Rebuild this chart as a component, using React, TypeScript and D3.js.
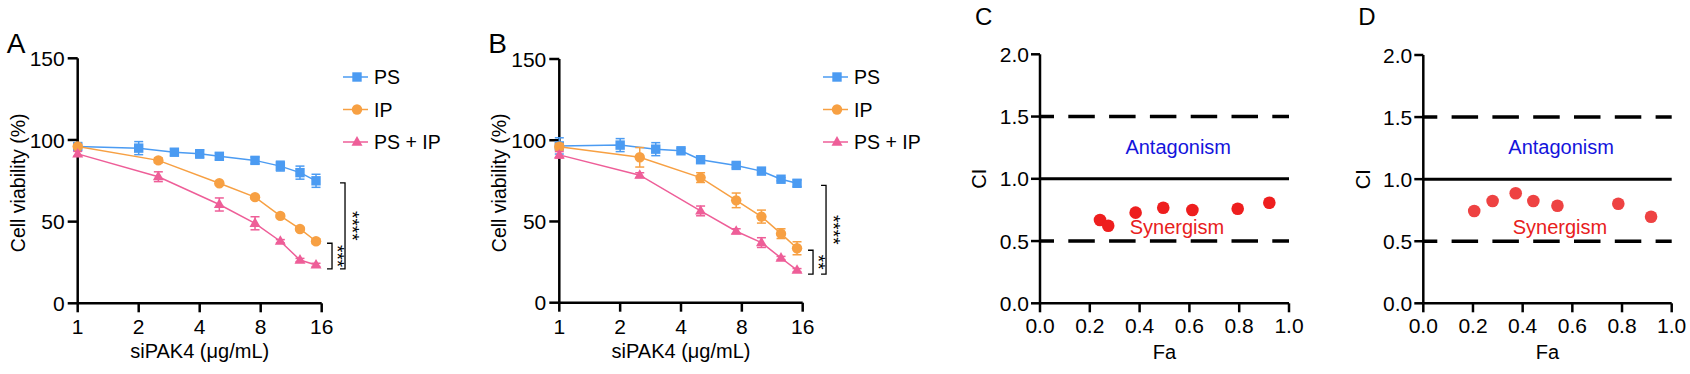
import React from 'react';
import * as d3 from 'd3';

// ---------- data ----------
const seriesNames = ['PS', 'IP', 'PS + IP'];
const seriesColors = ['#4B9BF2', '#F7A043', '#EE5E98'];

const dosesPS = [1, 2, 3, 4, 5, 7.5, 10, 12.5, 15];
const dosesCombo = [1, 2.5, 5, 7.5, 10, 12.5, 15];

const aPS = [96, 95, 92.5, 91.5, 90, 87.5, 84, 80, 75];
const aPSErr = [2, 4, 2, 2.5, 2, 2, 3, 4, 4];
const aIP = [96, 87.5, 73.5, 65, 53.5, 45.5, 38];
const aIPErr = [1, 1.5, 1, 1, 1, 1, 1.5];
const aCombo = [91.5, 77.5, 60.5, 49, 38, 26.5, 23.5];
const aComboErr = [1.5, 3, 4, 4, 1, 1, 1];

const bPS = [96.5, 97, 94.5, 93.5, 88, 84.5, 81, 76, 73.5];
const bPSErr = [5, 4, 4, 1.5, 2, 1.5, 1.5, 1, 2];
const bIP = [96, 89.5, 77, 63, 53, 42.5, 33.5];
const bIPErr = [2, 6, 3, 4.5, 4, 3, 4];
const bCombo = [91, 78.5, 56.5, 44, 37, 27.5, 20];
const bComboErr = [2, 1.5, 3, 1.5, 3, 1, 1];

const sigA = ['****', '***'];
const sigB = ['****', '**'];

const doseTicks = [1, 2, 4, 8, 16];
const viabTicks = [0, 50, 100, 150];

const faC = [0.241, 0.274, 0.384, 0.495, 0.612, 0.794, 0.921];
const ciC = [0.669, 0.623, 0.728, 0.768, 0.749, 0.76, 0.808];
const faD = [0.205, 0.279, 0.372, 0.443, 0.54, 0.785, 0.917];
const ciD = [0.743, 0.824, 0.886, 0.824, 0.786, 0.802, 0.697];

const faTicks = [0, 0.2, 0.4, 0.6, 0.8, 1.0];
const ciTicks = [0, 0.5, 1.0, 1.5, 2.0];
const ciRefDashed = [0.5, 1.5];
const ciRefSolid = 1.0;

const FONT = "'Liberation Sans', Arial, Helvetica, sans-serif";

function Marker({ kind, x, y, color }: { kind: number; x: number; y: number; color: string }) {
  if (kind === 0) return <rect x={x - 4.7} y={y - 4.7} width={9.4} height={9.4} fill={color} />;
  if (kind === 1) return <circle cx={x} cy={y} r={5.2} fill={color} />;
  const s = 11;
  const h = s * 0.87;
  return (
    <path
      d={`M${x},${y - h * 0.62} L${x + s / 2},${y + h * 0.38} L${x - s / 2},${y + h * 0.38} Z`}
      fill={color}
    />
  );
}

type Series = { doses: number[]; vals: number[]; errs: number[] };

function ViabPanel(props: {
  letter: string;
  ax: number;
  axEnd: number;
  yBottom: number;
  yTop: number;
  series: Series[];
  legendX: number;
  sig: string[];
}) {
  const { letter, ax, axEnd, yBottom, yTop, series, legendX, sig } = props;
  const x = d3.scaleLog().base(2).domain([1, 16]).range([ax, axEnd]);
  const y = d3.scaleLinear().domain([0, 150]).range([yBottom, yTop]);
  const line = d3
    .line<[number, number]>()
    .x((d) => x(d[0]))
    .y((d) => y(d[1]));

  const lastIdx = (s: Series) => s.vals.length - 1;
  const lastX = x(series[0].doses[lastIdx(series[0])]);
  const yPS = y(series[0].vals[lastIdx(series[0])]) + 2;
  const yIP = y(series[1].vals[lastIdx(series[1])]) + 2;
  const yCombo = y(series[2].vals[lastIdx(series[2])]) + 4;
  const bigX = lastX + 29;
  const smallX = lastX + 16;

  return (
    <g fontFamily={FONT}>
      <text x={ax - 71} y={53} fontSize={28}>{letter}</text>
      {/* axes */}
      <line x1={ax} x2={ax} y1={yTop} y2={yBottom} stroke="#000" strokeWidth={2.5} />
      <line x1={ax} x2={axEnd} y1={yBottom} y2={yBottom} stroke="#000" strokeWidth={2.5} />
      {viabTicks.map((t) => (
        <g key={t}>
          <line x1={ax - 10} x2={ax} y1={y(t)} y2={y(t)} stroke="#000" strokeWidth={2.5} />
          <text x={ax - 13} y={y(t)} dy="0.36em" textAnchor="end" fontSize={21}>{t}</text>
        </g>
      ))}
      {doseTicks.map((t) => (
        <g key={t}>
          <line x1={x(t)} x2={x(t)} y1={yBottom} y2={yBottom + 9} stroke="#000" strokeWidth={2.5} />
          <text x={x(t)} y={yBottom + 31} textAnchor="middle" fontSize={21}>{t}</text>
        </g>
      ))}
      <text x={(ax + axEnd) / 2} y={358} textAnchor="middle" fontSize={20}>siPAK4 (μg/mL)</text>
      <text
        transform={`translate(${ax - 60},${(yTop + yBottom) / 2 + 2}) rotate(-90)`}
        textAnchor="middle"
        dy="0.36em"
        fontSize={19.5}
      >
        Cell viability (%)
      </text>
      {/* series */}
      {series.map((s, i) => {
        const pts = s.doses.map((d, j) => [d, s.vals[j]] as [number, number]);
        return (
          <g key={i}>
            <path d={line(pts) || ''} fill="none" stroke={seriesColors[i]} strokeWidth={1.5} />
            {s.doses.map((d, j) => (
              <g key={j} stroke={seriesColors[i]} strokeWidth={1.5}>
                <line x1={x(d)} x2={x(d)} y1={y(s.vals[j] - s.errs[j])} y2={y(s.vals[j] + s.errs[j])} />
                <line x1={x(d) - 4.5} x2={x(d) + 4.5} y1={y(s.vals[j] + s.errs[j])} y2={y(s.vals[j] + s.errs[j])} />
                <line x1={x(d) - 4.5} x2={x(d) + 4.5} y1={y(s.vals[j] - s.errs[j])} y2={y(s.vals[j] - s.errs[j])} />
              </g>
            ))}
            {s.doses.map((d, j) => (
              <Marker key={'m' + j} kind={i} x={x(d)} y={y(s.vals[j])} color={seriesColors[i]} />
            ))}
          </g>
        );
      })}
      {/* significance brackets */}
      <path d={`M${bigX - 5},${yPS} H${bigX} V${yCombo} H${bigX - 5}`} fill="none" stroke="#000" strokeWidth={1.3} />
      <path d={`M${smallX - 5},${yIP} H${smallX} V${yCombo} H${smallX - 5}`} fill="none" stroke="#000" strokeWidth={1.3} />
      <text
        transform={`translate(${bigX + 0.5},${(yPS + yCombo) / 2}) rotate(90)`}
        textAnchor="middle"
        fontSize={19}
      >
        {sig[0]}
      </text>
      <text
        transform={`translate(${smallX - 1.5},${(yIP + yCombo) / 2}) rotate(90)`}
        textAnchor="middle"
        fontSize={19}
      >
        {sig[1]}
      </text>
      {/* legend */}
      {seriesNames.map((n, i) => {
        const ly = 77 + i * 32.5;
        return (
          <g key={n}>
            <line x1={legendX} x2={legendX + 25} y1={ly} y2={ly} stroke={seriesColors[i]} strokeWidth={1.5} />
            <Marker kind={i} x={legendX + 14} y={ly} color={seriesColors[i]} />
            <text x={legendX + 31} y={ly} dy="0.36em" fontSize={19.5}>{n}</text>
          </g>
        );
      })}
    </g>
  );
}

function CIPanel(props: { letter: string; ax: number; axEnd: number; yBottom: number; yTop: number; fa: number[]; ci: number[]; dot: string }) {
  const { letter, ax, axEnd, yBottom, yTop, fa, ci, dot } = props;
  const x = d3.scaleLinear().domain([0, 1]).range([ax, axEnd]);
  const y = d3.scaleLinear().domain([0, 2]).range([yBottom, yTop]);
  return (
    <g fontFamily={FONT}>
      <text x={ax - 65} y={25} fontSize={24}>{letter}</text>
      {ciRefDashed.map((v) => (
        <line
          key={v}
          x1={ax}
          x2={axEnd}
          y1={y(v)}
          y2={y(v)}
          stroke="#000"
          strokeWidth={3.5}
          strokeDasharray="26.5 14.3"
          strokeDashoffset={12.5}
        />
      ))}
      <line x1={ax} x2={axEnd} y1={y(ciRefSolid)} y2={y(ciRefSolid)} stroke="#000" strokeWidth={3} />
      <line x1={ax} x2={ax} y1={yTop} y2={yBottom} stroke="#000" strokeWidth={2.5} />
      <line x1={ax} x2={axEnd} y1={yBottom} y2={yBottom} stroke="#000" strokeWidth={2.5} />
      {ciTicks.map((t) => (
        <g key={t}>
          <line x1={ax - 9} x2={ax} y1={y(t)} y2={y(t)} stroke="#000" strokeWidth={2.5} />
          <text x={ax - 11} y={y(t)} dy="0.36em" textAnchor="end" fontSize={21}>{t.toFixed(1)}</text>
        </g>
      ))}
      {faTicks.map((t) => (
        <g key={t}>
          <line x1={x(t)} x2={x(t)} y1={yBottom} y2={yBottom + 9} stroke="#000" strokeWidth={2.5} />
          <text x={x(t)} y={yBottom + 30} textAnchor="middle" fontSize={21}>{t.toFixed(1)}</text>
        </g>
      ))}
      <text x={(ax + axEnd) / 2} y={359} textAnchor="middle" fontSize={20}>Fa</text>
      <text transform={`translate(${ax - 61},${y(1)}) rotate(-90)`} textAnchor="middle" dy="0.36em" fontSize={20}>CI</text>
      <text x={x(0.555)} y={y(1.258)} dy="0.36em" textAnchor="middle" fontSize={20} fill="#1414DC">Antagonism</text>
      {fa.map((f, i) => (
        <circle key={i} cx={x(f)} cy={y(ci[i])} r={6.3} fill={dot} />
      ))}
      <text x={x(0.55)} y={y(0.613)} dy="0.36em" textAnchor="middle" fontSize={20} fill="#E82020">Synergism</text>
    </g>
  );
}

export default function App() {
  const seriesA: Series[] = [
    { doses: dosesPS, vals: aPS, errs: aPSErr },
    { doses: dosesCombo, vals: aIP, errs: aIPErr },
    { doses: dosesCombo, vals: aCombo, errs: aComboErr },
  ];
  const seriesB: Series[] = [
    { doses: dosesPS, vals: bPS, errs: bPSErr },
    { doses: dosesCombo, vals: bIP, errs: bIPErr },
    { doses: dosesCombo, vals: bCombo, errs: bComboErr },
  ];
  return (
    <svg
      width={1690}
      height={374}
      viewBox="0 0 1690 374"
      style={{ position: 'absolute', left: 0, top: 0, background: '#fff' }}
    >
      <rect width={1690} height={374} fill="#fff" />
      <ViabPanel letter="A" ax={77.7} axEnd={321.7} yBottom={303.3} yTop={58.3} series={seriesA} legendX={343} sig={sigA} />
      <ViabPanel letter="B" ax={559.3} axEnd={802.7} yBottom={302.7} yTop={59} series={seriesB} legendX={823} sig={sigB} />
      <CIPanel letter="C" ax={1040} axEnd={1289} yBottom={303.3} yTop={54.3} fa={faC} ci={ciC} dot="#EE1E1E" />
      <CIPanel letter="D" ax={1423.3} axEnd={1671.7} yBottom={303.3} yTop={55} fa={faD} ci={ciD} dot="#EE4242" />
    </svg>
  );
}
